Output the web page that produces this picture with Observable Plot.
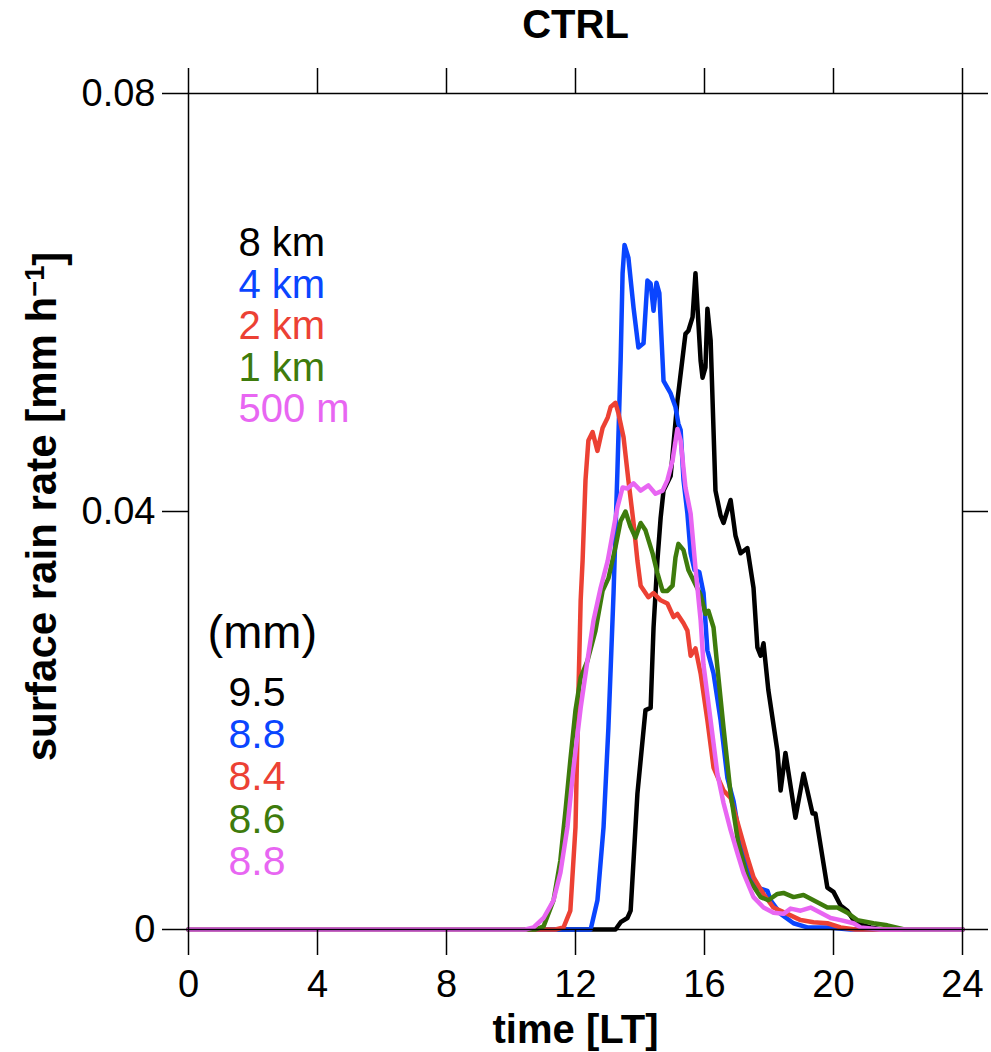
<!DOCTYPE html>
<html>
<head>
<meta charset="utf-8">
<script src="https://cdn.jsdelivr.net/npm/d3@7"></script>
<script src="https://cdn.jsdelivr.net/npm/@observablehq/plot@0.6"></script>
<style>
  html, body { margin: 0; padding: 0; background: #fff; }
  #chart { width: 991px; height: 1052px; }
</style>
</head>
<body>
<div id="chart"></div>
<script>
// ---- data (time in local hours, surface rain rate in mm/h) ----
const seriesNames = ["8 km", "4 km", "2 km", "1 km", "500 m"];
const seriesColors = ["#000000", "#0a45ff", "#ec4134", "#3e7b0c", "#e866f2"];
const totalsMm = ["9.5", "8.8", "8.4", "8.6", "8.8"];

const hourTicks = [0, 4, 8, 12, 16, 20, 24];
const rateTicks = [0, 0.04, 0.08];
const rateTickLabels = ["0", "0.04", "0.08"];

const time8km = [0, 13.24, 13.40, 13.61, 13.71, 13.92, 14.17, 14.33, 14.42, 14.54, 14.64, 14.73, 14.95, 15.16, 15.32, 15.41, 15.50, 15.63, 15.72, 15.88, 15.94, 16.03, 16.09, 16.19, 16.29, 16.34, 16.50, 16.59, 16.81, 16.96, 17.12, 17.33, 17.52, 17.64, 17.74, 17.83, 17.98, 18.26, 18.36, 18.51, 18.82, 19.07, 19.35, 19.44, 19.81, 20.00, 20.22, 20.43, 20.62, 20.84, 21.15, 21.5, 24];
const rate8km = [0, 0, 0.0007, 0.0011, 0.0018, 0.0130, 0.0210, 0.0212, 0.0289, 0.0353, 0.0394, 0.0420, 0.0434, 0.0506, 0.0547, 0.0570, 0.0573, 0.0586, 0.0628, 0.0544, 0.0528, 0.0538, 0.0594, 0.0564, 0.0468, 0.0420, 0.0396, 0.0389, 0.0411, 0.0377, 0.0360, 0.0365, 0.0327, 0.0270, 0.0262, 0.0274, 0.0229, 0.0171, 0.0133, 0.0169, 0.0107, 0.0149, 0.0111, 0.0111, 0.0040, 0.0036, 0.0023, 0.0018, 0.0009, 0.0005, 0.0002, 0, 0];

const time4km = [0, 12.47, 12.68, 12.87, 13.02, 13.18, 13.30, 13.40, 13.46, 13.52, 13.64, 13.80, 13.95, 14.11, 14.23, 14.33, 14.42, 14.51, 14.60, 14.73, 14.95, 15.10, 15.19, 15.26, 15.35, 15.47, 15.57, 15.69, 15.84, 15.97, 16.09, 16.28, 16.50, 16.71, 16.90, 17.12, 17.33, 17.64, 17.95, 18.05, 18.36, 18.76, 19.19, 19.81, 20.53, 24];
const rate4km = [0, 0, 0.0028, 0.0098, 0.0193, 0.0322, 0.0439, 0.0545, 0.0628, 0.0655, 0.0643, 0.0595, 0.0557, 0.0561, 0.0621, 0.0618, 0.0592, 0.0619, 0.0609, 0.0525, 0.0513, 0.0500, 0.0484, 0.0478, 0.0430, 0.0398, 0.0360, 0.0344, 0.0342, 0.0322, 0.0267, 0.0245, 0.0200, 0.0145, 0.0123, 0.0082, 0.0056, 0.0040, 0.0037, 0.0028, 0.0015, 0.0006, 0.0002, 0.0002, 0, 0];

const time2km = [0, 11.38, 11.63, 11.84, 12.00, 12.09, 12.16, 12.22, 12.31, 12.40, 12.53, 12.68, 12.84, 13.00, 13.09, 13.24, 13.33, 13.49, 13.64, 13.80, 13.92, 14.02, 14.26, 14.42, 14.64, 14.85, 15.04, 15.16, 15.35, 15.47, 15.57, 15.72, 15.88, 16.09, 16.28, 16.59, 16.81, 17.12, 17.33, 17.52, 17.83, 18.14, 18.57, 18.98, 19.38, 19.81, 20.22, 20.68, 24];
const rate2km = [0, 0, 0.0002, 0.0018, 0.0098, 0.0226, 0.0315, 0.0353, 0.0430, 0.0468, 0.0476, 0.0458, 0.0480, 0.0490, 0.0500, 0.0504, 0.0494, 0.0471, 0.0430, 0.0389, 0.0353, 0.0329, 0.0318, 0.0322, 0.0315, 0.0312, 0.0299, 0.0302, 0.0293, 0.0286, 0.0262, 0.0269, 0.0245, 0.0200, 0.0155, 0.0133, 0.0126, 0.0092, 0.0069, 0.0050, 0.0034, 0.0021, 0.0015, 0.0009, 0.0007, 0.0006, 0.0002, 0, 0];

const time1km = [0, 10.76, 11.01, 11.32, 11.53, 11.69, 11.84, 12.00, 12.16, 12.37, 12.62, 12.84, 13.02, 13.24, 13.40, 13.55, 13.71, 13.86, 14.02, 14.17, 14.39, 14.54, 14.70, 14.85, 15.01, 15.10, 15.19, 15.35, 15.50, 15.66, 15.88, 16.03, 16.12, 16.28, 16.40, 16.59, 16.81, 17.05, 17.33, 17.74, 17.98, 18.26, 18.45, 18.76, 19.07, 19.38, 19.81, 20.12, 20.43, 20.74, 21.24, 21.67, 22.2, 24];
const rate1km = [0, 0, 0.0003, 0.0028, 0.0066, 0.0114, 0.0162, 0.0210, 0.0241, 0.0257, 0.0286, 0.0324, 0.0336, 0.0366, 0.0391, 0.0400, 0.0385, 0.0375, 0.0389, 0.0382, 0.0360, 0.0341, 0.0324, 0.0324, 0.0329, 0.0356, 0.0369, 0.0363, 0.0344, 0.0334, 0.0320, 0.0302, 0.0305, 0.0289, 0.0251, 0.0193, 0.0130, 0.0082, 0.0050, 0.0031, 0.0028, 0.0034, 0.0035, 0.0031, 0.0033, 0.0028, 0.0021, 0.0021, 0.0016, 0.0009, 0.0006, 0.0004, 0, 0];

const time500m = [0, 10.45, 10.70, 11.01, 11.32, 11.53, 11.75, 11.94, 12.16, 12.37, 12.56, 12.78, 13.00, 13.30, 13.46, 13.61, 13.80, 14.02, 14.26, 14.48, 14.70, 14.85, 15.01, 15.16, 15.26, 15.41, 15.57, 15.72, 15.88, 15.97, 16.19, 16.40, 16.59, 16.81, 17.02, 17.21, 17.52, 17.83, 18.14, 18.45, 18.67, 18.98, 19.29, 19.60, 19.91, 20.22, 20.62, 20.84, 21.46, 24];
const rate500m = [0, 0, 0.0002, 0.0011, 0.0028, 0.0054, 0.0098, 0.0155, 0.0212, 0.0257, 0.0296, 0.0327, 0.0353, 0.0404, 0.0423, 0.0422, 0.0427, 0.0420, 0.0425, 0.0417, 0.0420, 0.0430, 0.0449, 0.0479, 0.0468, 0.0423, 0.0398, 0.0346, 0.0296, 0.0253, 0.0200, 0.0149, 0.0121, 0.0095, 0.0073, 0.0054, 0.0031, 0.0021, 0.0016, 0.0015, 0.0020, 0.0018, 0.0021, 0.0016, 0.0011, 0.0009, 0.0006, 0.0002, 0, 0];

const seriesTimes = [time8km, time4km, time2km, time1km, time500m];
const seriesRates = [rate8km, rate4km, rate2km, rate1km, rate500m];

// ---- build table ----
const rows = [];
seriesNames.forEach((name, k) => {
  seriesTimes[k].forEach((t, i) => rows.push({series: name, t, v: seriesRates[k][i]}));
});

const FONT = "'Liberation Sans', Arial, Helvetica, sans-serif";

const legendMarks = [];
seriesNames.forEach((name, i) => {
  legendMarks.push(Plot.text([name], {
    frameAnchor: "top-left", dx: 50, dy: 150 + i * 41.5,
    lineAnchor: "middle", textAnchor: "start",
    fill: seriesColors[i], fontSize: 40, fontFamily: FONT
  }));
});
legendMarks.push(Plot.text(["(mm)"], {
  frameAnchor: "top-left", dx: 19, dy: 539,
  lineAnchor: "middle", textAnchor: "start",
  fill: "black", fontSize: 47, fontFamily: FONT
}));
totalsMm.forEach((val, i) => {
  legendMarks.push(Plot.text([val], {
    frameAnchor: "top-left", dx: 40, dy: 599 + i * 42.4,
    lineAnchor: "middle", textAnchor: "start",
    fill: seriesColors[i], fontSize: 41, fontFamily: FONT
  }));
});

const chart = Plot.plot({
  width: 991,
  height: 1052,
  marginLeft: 188,
  marginRight: 29,
  marginTop: 93,
  marginBottom: 123,
  style: {fontFamily: FONT, background: "#fff", color: "#000", overflow: "visible"},
  x: {domain: [0, 24]},
  y: {domain: [0, 0.08]},
  color: {domain: seriesNames, range: seriesColors},
  marks: [
    Plot.line(rows, {x: "t", y: "v", z: "series", stroke: "series", strokeWidth: 4.5, strokeLinejoin: "round", strokeLinecap: "round"}),
    Plot.frame({stroke: "#000", strokeWidth: 1.5}),
    Plot.axisX({anchor: "bottom", ticks: hourTicks, tickSize: 26, tickPadding: 15, strokeWidth: 1.5, fontSize: 38, label: null, tickFormat: d => String(d)}),
    Plot.axisX({anchor: "top", ticks: hourTicks, tickSize: 26, strokeWidth: 1.5, label: null, tickFormat: () => ""}),
    Plot.axisY({anchor: "left", ticks: rateTicks, tickSize: 26, tickPadding: 7, strokeWidth: 1.5, fontSize: 38, label: null, tickFormat: d => rateTickLabels[rateTicks.indexOf(d)]}),
    Plot.axisY({anchor: "right", ticks: rateTicks, tickSize: 25, strokeWidth: 1.5, label: null, tickFormat: () => ""}),
    Plot.text(["CTRL"], {frameAnchor: "top", dy: -68, lineAnchor: "middle", fontWeight: "bold", fontSize: 40, fill: "#000", fontFamily: FONT}),
    Plot.text(["time [LT]"], {frameAnchor: "bottom", dy: 101, lineAnchor: "middle", fontWeight: "bold", fontSize: 40, fill: "#000", fontFamily: FONT}),
    Plot.text(["surface rain rate [mm h-1]"], {frameAnchor: "left", dx: -146, dy: -5, rotate: -90, lineAnchor: "middle", textAnchor: "middle", fontWeight: "bold", fontSize: 42, fill: "#000", fontFamily: FONT}),
    ...legendMarks
  ]
});

document.getElementById("chart").appendChild(chart);

// superscript for the unit in the y label
d3.select(chart).selectAll("text").each(function () {
  if (this.textContent === "surface rain rate [mm h-1]") {
    const el = d3.select(this);
    el.text("");
    el.append("tspan").text("surface rain rate [mm h");
    el.append("tspan").attr("dy", "-0.45em").attr("font-size", "0.65em").text("\u22121");
    el.append("tspan").attr("dy", "0.45em").text("]");
  }
});
</script>
</body>
</html>
